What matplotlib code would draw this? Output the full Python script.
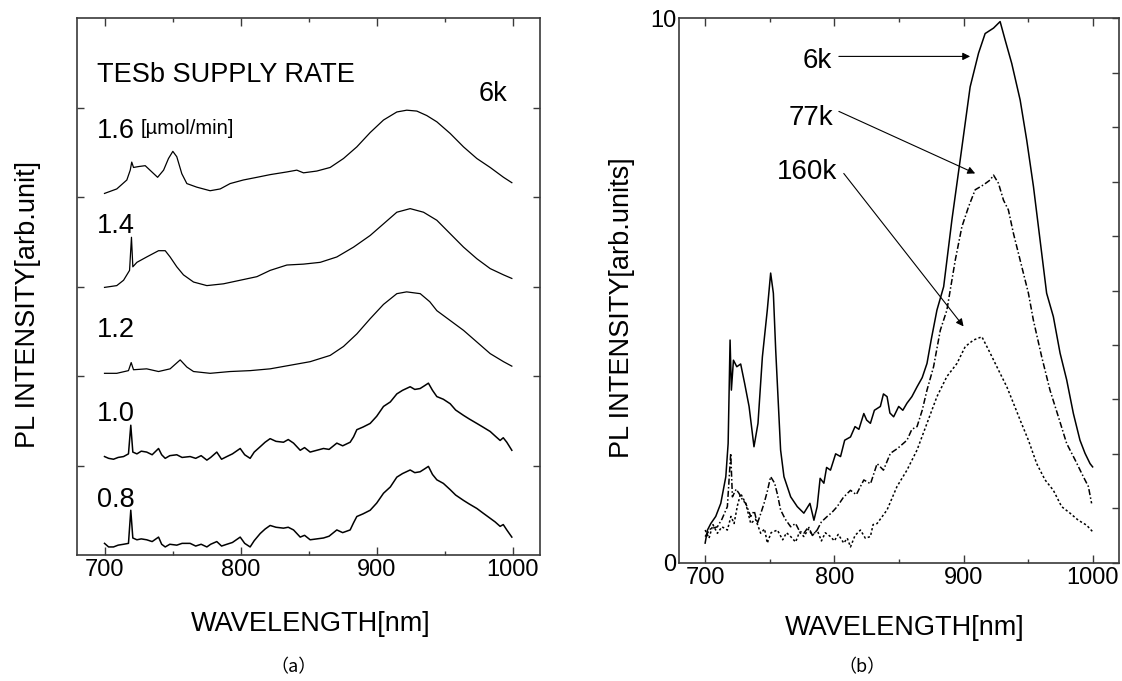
import matplotlib
matplotlib.use("Agg")
import matplotlib.pyplot as plt
from matplotlib import font_manager as fm
from matplotlib.ticker import MultipleLocator, FixedLocator

# ---------------- data: panel (a), TESb supply rate series (offset spectra) ----------------
rates = ["1.6", "1.4", "1.2", "1.0", "0.8"]
rate_label_y = [4.74, 3.68, 2.51, 1.58, 0.62]

w16 = [700, 709, 716.4, 718.9, 720, 721.3, 725, 729.9, 734.8, 739, 743.4, 747, 750.2, 753.1, 756.8,
       760.5, 767.8, 777.6, 785, 792.3, 802, 812, 821.7, 834, 841.3, 846.2, 856, 865.8, 875.6, 885.4,
       895.2, 905, 914.8, 922.1, 929.5, 936.8, 944.2, 954, 963.8, 973.6, 983.4, 993.2, 999.3]
i16 = [4.04, 4.09, 4.19, 4.30, 4.39, 4.33, 4.34, 4.35, 4.28, 4.22, 4.30, 4.43, 4.51, 4.45, 4.26,
       4.15, 4.11, 4.07, 4.09, 4.15, 4.19, 4.22, 4.25, 4.28, 4.30, 4.27, 4.29, 4.33, 4.43, 4.56,
       4.72, 4.86, 4.95, 4.97, 4.96, 4.91, 4.84, 4.71, 4.56, 4.43, 4.33, 4.22, 4.16]

w14 = [700, 709, 714, 718.4, 719.8, 720.8, 723.8, 731, 739.7, 744.6, 748.2, 753.1, 758, 765.4, 775.2,
       787.4, 799.7, 812, 821.7, 834, 846.2, 858.5, 870.7, 883, 895.2, 905, 914.8, 924.6, 934.4, 944.2,
       954, 963.8, 973.6, 983.4, 993.2, 999.3]
i14 = [2.99, 3.01, 3.07, 3.18, 3.55, 3.22, 3.27, 3.33, 3.40, 3.40, 3.33, 3.22, 3.13, 3.05, 3.01,
       3.03, 3.07, 3.11, 3.18, 3.24, 3.25, 3.27, 3.33, 3.44, 3.57, 3.70, 3.83, 3.87, 3.83, 3.74,
       3.59, 3.44, 3.31, 3.20, 3.13, 3.09]

w12 = [700, 709, 717.6, 719.6, 721.3, 731, 739.7, 748.2, 755.6, 760.5, 765.4, 777.6, 792.3, 807, 821.7,
       836.4, 851.1, 865.8, 875.6, 885.4, 895.2, 905, 914.8, 922, 932, 939, 944.2, 954, 963.8, 973.6,
       983.4, 993.2, 999.3]
i12 = [2.03, 2.03, 2.06, 2.15, 2.07, 2.08, 2.05, 2.08, 2.18, 2.10, 2.05, 2.03, 2.05, 2.06, 2.08,
       2.12, 2.16, 2.23, 2.33, 2.47, 2.64, 2.80, 2.92, 2.94, 2.92, 2.83, 2.73, 2.62, 2.51, 2.38,
       2.25, 2.16, 2.11]

w10 = [700, 703, 706.6, 710, 714, 717.6, 719.3, 720.8, 723.8, 727, 731, 735, 739.7, 742, 744.6,
       748, 753.1, 757, 762.9, 767, 771, 775.2, 778, 782.5, 786, 789.9, 794, 799.7, 803, 807,
       810, 814.4, 818, 821.7, 826, 831.5, 835, 838.9, 843.8, 847, 851.1, 856, 860.9, 865, 870.7,
       875, 880.5, 883, 885.4, 890, 895.2, 900, 905, 910, 914.8, 919, 924.6, 928, 931.9, 935,
       938, 941, 944.2, 949, 954, 958, 963.8, 968, 973.6, 978, 983.4, 987, 990.7, 993, 995.6, 999.3]
i10 = [1.10, 1.08, 1.07, 1.09, 1.10, 1.13, 1.45, 1.15, 1.13, 1.16, 1.15, 1.12, 1.19, 1.12, 1.08,
       1.11, 1.12, 1.09, 1.10, 1.08, 1.11, 1.06, 1.09, 1.15, 1.07, 1.10, 1.13, 1.19, 1.12, 1.08,
       1.15, 1.21, 1.26, 1.30, 1.27, 1.26, 1.29, 1.25, 1.17, 1.20, 1.15, 1.17, 1.19, 1.18, 1.25,
       1.22, 1.26, 1.32, 1.40, 1.43, 1.47, 1.55, 1.66, 1.71, 1.80, 1.84, 1.88, 1.85, 1.86, 1.89,
       1.92, 1.84, 1.77, 1.74, 1.69, 1.62, 1.56, 1.52, 1.47, 1.43, 1.38, 1.33, 1.28, 1.31, 1.26, 1.17]

w08 = [700, 703, 706.6, 710, 714, 717.6, 719.3, 720.8, 723.8, 727, 731, 735, 739.7, 742, 744.6,
       748, 753.1, 757, 762.9, 767, 771, 775.2, 778, 782.5, 786, 789.9, 794, 799.7, 803, 807,
       810, 814.4, 818, 821.7, 826, 831.5, 835, 838.9, 843.8, 847, 851.1, 856, 860.9, 865, 870.7,
       875, 880.5, 883, 885.4, 890, 895.2, 900, 905, 910, 914.8, 919, 924.6, 928, 931.9, 935,
       938, 941, 944.2, 949, 954, 958, 963.8, 968, 973.6, 978, 983.4, 987, 990.7, 993, 995.6, 999.3]
i08 = [0.13, 0.09, 0.09, 0.11, 0.12, 0.13, 0.50, 0.19, 0.17, 0.18, 0.17, 0.15, 0.20, 0.12, 0.09,
       0.12, 0.11, 0.13, 0.13, 0.10, 0.12, 0.09, 0.12, 0.15, 0.10, 0.12, 0.14, 0.20, 0.13, 0.09,
       0.16, 0.24, 0.29, 0.33, 0.31, 0.30, 0.31, 0.28, 0.20, 0.22, 0.17, 0.18, 0.19, 0.21, 0.28,
       0.25, 0.28, 0.36, 0.43, 0.46, 0.50, 0.58, 0.69, 0.76, 0.87, 0.91, 0.95, 0.92, 0.93, 0.96,
       0.99, 0.90, 0.84, 0.80, 0.73, 0.67, 0.61, 0.57, 0.52, 0.47, 0.41, 0.37, 0.32, 0.34, 0.28, 0.20]

# ---------------- data: panel (b), temperature series ----------------
temps = ["6k", "77k", "160k"]
w6 = [700, 701.8, 704.4, 708.2, 712.1, 716, 717.8, 719.3, 720.3, 721.9, 724.5, 727.5, 730.6, 734, 737.8,
      740.9, 744.3, 748.1, 750.7, 752.8, 754.6, 758.4, 761, 766.2, 771.3, 776.4, 781.1, 784.2, 786.7, 789,
      791.9, 794, 797, 801, 804.8, 808, 812.5, 816, 819, 822.8, 825, 827.9, 831, 835.6, 838,
      840.8, 843, 845.9, 849.8, 853, 856.2, 860, 864, 868, 871.7, 875, 879.4, 884.6, 891,
      897.4, 905.1, 911.6, 916.7, 923.2, 928.3, 932.2, 937.3, 943.8, 948.9, 954.1, 959.2, 964.3, 969.5, 974.7,
      979.8, 985, 990.1, 994, 997.9, 999.9]
i6 = [0.36, 0.60, 0.72, 0.85, 1.09, 1.58, 2.19, 4.09, 3.17, 3.72, 3.60, 3.65, 3.29, 2.87, 2.13,
      2.56, 3.78, 4.64, 5.32, 4.95, 3.91, 2.07, 1.58, 1.21, 1.03, 0.91, 1.09, 0.78, 1.03, 1.55,
      1.46, 1.75, 1.70, 2.00, 1.95, 2.25, 2.31, 2.50, 2.45, 2.74, 2.62, 2.56, 2.80, 2.87, 3.10,
      3.05, 2.75, 2.68, 2.87, 2.80, 2.93, 3.05, 3.23, 3.40, 3.66, 4.10, 4.64, 5.07, 6.30,
      7.40, 8.74, 9.36, 9.72, 9.82, 9.94, 9.60, 9.17, 8.50, 7.76, 6.91, 5.93, 4.95, 4.52, 3.85,
      3.36, 2.74, 2.25, 2.01, 1.82, 1.76]

w77 = [700, 704, 709.5, 713, 717.2, 719.8, 721.1, 724, 726.3, 729, 731.4, 735.3, 738, 740.4, 743,
       745.6, 748, 750.7, 753.8, 756, 758.4, 762, 766.2, 770, 773, 776.4, 780, 783, 786.7, 790,
       794.5, 798, 802.2, 807, 812.5, 817, 822.8, 828, 833.1, 838, 843.4, 849, 856.2, 860, 864,
       868, 871.7, 876.8, 882, 887.1, 893.6, 898.7, 903.9, 909, 915.4, 920.6, 923.2, 927, 930.9, 934.7,
       938.6, 942.5, 946.3, 950.2, 954, 960.5, 966.9, 973.4, 979.8, 986.3, 992.7, 996.6, 999.1]
i77 = [0.48, 0.62, 0.66, 0.80, 1.03, 2.01, 1.21, 1.35, 1.27, 1.15, 1.09, 0.85, 0.95, 0.72, 0.90,
       1.09, 1.30, 1.58, 1.46, 1.25, 0.97, 0.80, 0.66, 0.72, 0.58, 0.54, 0.66, 0.50, 0.60, 0.75,
       0.85, 0.92, 1.03, 1.20, 1.33, 1.25, 1.52, 1.45, 1.82, 1.70, 2.01, 2.10, 2.25, 2.45, 2.50,
       2.80, 3.17, 3.60, 4.27, 4.64, 5.56, 6.17, 6.54, 6.85, 6.94, 7.03, 7.12, 6.97, 6.66, 6.48,
       6.05, 5.68, 5.32, 4.95, 4.46, 3.78, 3.17, 2.68, 2.19, 1.89, 1.58, 1.40, 1.09]

w160 = [700, 703, 706, 709.5, 713, 717.2, 720, 722.4, 725, 727.5, 731.4, 735.3, 739, 743, 746,
        748.1, 751, 755.9, 760, 763, 766.2, 770, 773, 776.4, 780, 783, 786.7, 790, 793, 797,
        800, 803, 807.3, 810, 812.5, 816, 820.2, 824, 827.9, 830, 833.1, 840.8, 848.5, 856.2, 864,
        871.7, 879.4, 887.1, 894.9, 901.3, 907.7, 914.2, 920.6, 927, 933.5, 938.6, 943.8, 950.2, 956.6, 963.1,
        969.5, 975.9, 982.4, 988.8, 995.2, 999.9]
i160 = [0.60, 0.45, 0.70, 0.54, 0.66, 0.60, 0.85, 0.72, 1.05, 1.27, 1.09, 0.72, 0.80, 0.54, 0.62,
        0.36, 0.55, 0.60, 0.42, 0.55, 0.48, 0.38, 0.56, 0.48, 0.62, 0.50, 0.60, 0.40, 0.55, 0.48,
        0.40, 0.52, 0.36, 0.45, 0.29, 0.50, 0.60, 0.45, 0.48, 0.70, 0.72, 0.97, 1.40, 1.70, 2.07,
        2.56, 3.05, 3.42, 3.66, 3.97, 4.09, 4.15, 3.85, 3.54, 3.23, 2.93, 2.62, 2.25, 1.82, 1.52,
        1.33, 1.03, 0.91, 0.78, 0.69, 0.57]

# annotation label anchors (text position) and arrow tips for panel (b)
temp_text_xy = [(798.3, 9.22), (799.6, 8.16), (802.2, 7.18)]
temp_arrow_from = [(803.5, 9.30), (803.5, 8.29), (807.3, 7.15)]
temp_arrow_to = [(905.1, 9.30), (909.0, 7.15), (900.0, 4.34)]

x_ticks = [700, 800, 900, 1000]
x_tick_labels = ["700", "800", "900", "1000"]

# ---------------- fonts ----------------
names = {f.name for f in fm.fontManager.ttflist}
REG = "Liberation Sans" if "Liberation Sans" in names else "DejaVu Sans"
NARROW = "Liberation Sans Narrow" if "Liberation Sans Narrow" in names else None
plt.rcParams["font.family"] = [REG, "DejaVu Sans"]

LAB_FAM = [NARROW, REG] if NARROW else [REG]
LAB_SIZE = 23 if NARROW else 19.5
TICK_SIZE = 18 if NARROW else 17

INK = "black"
SPINE = "#3a3a3a"

fig = plt.figure(figsize=(11.22, 6.81), dpi=100)
W, H = 1122.0, 681.0


def px_axes(l, t, r, b):
    return [l / W, 1 - b / H, (r - l) / W, (b - t) / H]


ax1 = fig.add_axes(px_axes(77.3, 18, 540, 555))
ax2 = fig.add_axes(px_axes(679.3, 18.3, 1118.6, 562.7))


def style(ax):
    for s in ax.spines.values():
        s.set_color(SPINE)
        s.set_linewidth(1.2)
    ax.set_xlim(680, 1020)
    ax.xaxis.set_major_locator(FixedLocator(x_ticks))
    ax.set_xticklabels(x_tick_labels)
    ax.xaxis.set_minor_locator(MultipleLocator(50))
    ax.tick_params(axis="x", which="major", direction="in", top=True, bottom=True,
                   length=6, width=1.0, color=SPINE, labelsize=TICK_SIZE, pad=3)
    ax.tick_params(axis="x", which="minor", direction="in", top=True, bottom=True,
                   length=3, width=1.0, color=SPINE)
    for lbl in ax.get_xticklabels():
        lbl.set_family(LAB_FAM)


style(ax1)
style(ax2)

# ---- panel (a)
ax1.set_ylim(0, 6)
ax1.set_yticks([1, 2, 3, 4, 5])
ax1.tick_params(axis="y", direction="in", left=True, right=True, labelleft=False,
                length=5, width=1.0, color=SPINE)
series_a = [(w16, i16), (w14, i14), (w12, i12), (w10, i10), (w08, i08)]
widths_a = [0.9, 0.9, 0.9, 1.1, 1.1]
for (w, i), lw in zip(series_a, widths_a):
    ax1.plot(w, i, color=INK, lw=lw)
for r, y in zip(rates, rate_label_y):
    ax1.text(694.4, y, r, fontsize=19.5, ha="left", va="center", color=INK)
ax1.text(726.2, 4.76, "[\u00b5mol/min]", fontsize=14.5, ha="left", va="center", color=INK)
ax1.text(694.4, 5.36, "TESb SUPPLY RATE", fontsize=19.5, ha="left", va="center", color=INK)
ax1.text(974.8, 5.15, "6k", fontsize=19.5, ha="left", va="center", color=INK)

# ---- panel (b)
ax2.set_ylim(0, 10)
ax2.set_yticks(range(0, 11))
ax2.set_yticklabels(["0"] + [""] * 9 + ["10"])
ax2.tick_params(axis="y", direction="in", left=False, right=True, labelleft=True,
                length=5, width=1.0, color=SPINE, labelsize=TICK_SIZE, pad=2)
for lbl in ax2.get_yticklabels():
    lbl.set_family(LAB_FAM)
styles_b = ["-", (0, (4, 1.5, 1, 1.5)), (0, (1.5, 1.5))]
series_b = [(w6, i6), (w77, i77), (w160, i160)]
for (w, i), ls in zip(series_b, styles_b):
    ax2.plot(w, i, color=INK, lw=1.1, linestyle=ls)
for t, txy, a0, a1 in zip(temps, temp_text_xy, temp_arrow_from, temp_arrow_to):
    ax2.text(txy[0], txy[1], t, fontsize=20, ha="right", va="center", color=INK)
    ax2.annotate("", xy=a1, xytext=a0,
                 arrowprops=dict(arrowstyle="-|>", color=INK, lw=0.8, mutation_scale=11,
                                 shrinkA=0, shrinkB=0))

# ---- axis labels and captions (figure pixel positions)
def ftext(x, y, s, **kw):
    fig.text(x / W, 1 - y / H, s, **kw)


ftext(311, 624, "WAVELENGTH[nm]", fontsize=LAB_SIZE, family=LAB_FAM, ha="center", va="center")
ftext(905, 628, "WAVELENGTH[nm]", fontsize=LAB_SIZE, family=LAB_FAM, ha="center", va="center")
ftext(28, 305, "PL INTENSITY[arb.unit]", fontsize=LAB_SIZE, family=LAB_FAM, rotation=90,
      ha="center", va="center")
ftext(622, 308, "PL INTENSITY[arb.units]", fontsize=LAB_SIZE, family=LAB_FAM, rotation=90,
      ha="center", va="center")
cap_fam = ["Noto Sans CJK SC", REG]
ftext(294, 667, "\uff08a\uff09", fontsize=13, family=cap_fam, ha="center", va="center")
ftext(862, 667, "\uff08b\uff09", fontsize=13, family=cap_fam, ha="center", va="center")

fig.savefig("out.png", dpi=100)
